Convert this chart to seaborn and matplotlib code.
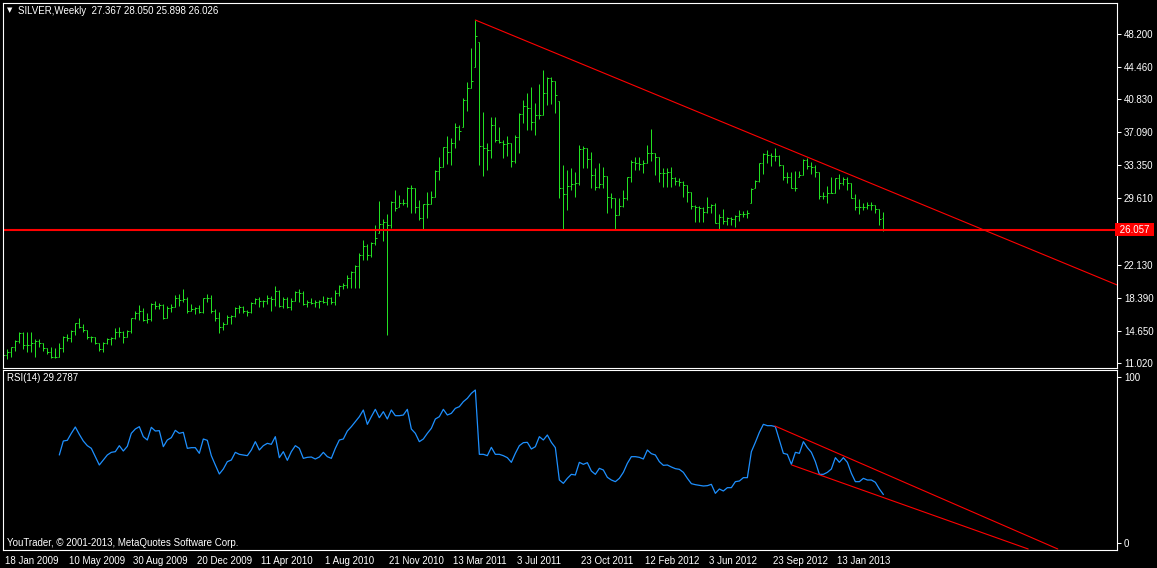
import numpy as np
import pandas as pd
import matplotlib
matplotlib.use("Agg")
import matplotlib.pyplot as plt
import matplotlib.transforms as mtransforms
import seaborn as sns

# weekly SILVER bars, one entry per week on screen
opens = [
    12.07, 11.96, 12.29, 12.86, 13.54, 14.44, 13.08, 13.08, 13.31, 13.54,
    13.31, 12.75, 12.29, 11.73, 11.73, 12.75, 13.99, 13.87, 14.66, 15.57,
    15.11, 14.78, 13.99, 13.99, 13.31, 12.63, 13.31, 13.76, 13.87, 14.55,
    14.55, 13.99, 14.66, 16.13, 16.69, 16.92, 15.90, 16.02, 17.71, 17.48,
    17.60, 16.13, 17.26, 17.37, 18.39, 18.16, 18.27, 16.92, 17.14, 17.26,
    16.81, 18.39, 18.39, 16.92, 16.13, 15.11, 15.45, 16.24, 16.36, 17.26,
    17.37, 16.92, 16.81, 17.82, 18.27, 18.05, 18.05, 18.39, 18.27, 19.18,
    17.48, 18.27, 17.37, 18.05, 19.06, 18.95, 17.71, 17.93, 17.82, 17.93,
    18.05, 17.93, 18.39, 17.93, 18.95, 19.74, 19.85, 20.64, 21.32, 21.99,
    23.24, 24.25, 23.24, 24.59, 25.72, 26.73, 26.96, 26.62, 29.21, 28.65,
    29.10, 29.10, 30.79, 30.79, 28.65, 27.41, 28.99, 28.99, 29.78, 32.71,
    33.16, 35.42, 34.85, 35.87, 37.67, 37.67, 40.72, 42.07, 44.44, 47.26,
    35.53, 35.31, 35.08, 37.90, 36.21, 35.98, 35.76, 35.87, 33.84, 36.55,
    39.14, 40.04, 39.82, 38.24, 39.03, 39.03, 41.51, 43.20, 42.86, 40.61,
    30.79, 30.12, 31.02, 31.24, 31.36, 35.19, 35.31, 34.06, 32.26, 30.91,
    31.24, 32.15, 29.78, 29.67, 27.75, 28.76, 29.67, 32.03, 33.73, 33.61,
    33.50, 33.61, 34.74, 34.74, 34.29, 32.49, 32.49, 32.60, 31.92, 31.58,
    31.47, 31.13, 30.34, 28.76, 28.65, 28.54, 28.09, 28.65, 28.88, 26.85,
    27.52, 27.07, 27.41, 27.30, 27.64, 27.86, 27.86, 29.10, 30.79, 31.58,
    33.61, 34.63, 34.52, 34.40, 34.40, 33.39, 32.03, 32.03, 30.79, 32.03,
    32.26, 33.95, 33.28, 33.16, 32.60, 29.89, 29.89, 30.23, 30.23, 31.92,
    31.36, 31.81, 31.36, 29.67, 28.65, 28.65, 28.65, 28.88, 28.88, 28.42,
    27.37,
]
highs = [
    12.29, 12.63, 12.86, 13.65, 14.55, 14.55, 14.55, 14.55, 13.76, 13.76,
    13.31, 12.75, 12.86, 12.75, 13.31, 14.10, 14.32, 14.78, 15.57, 16.13,
    15.45, 14.78, 14.10, 13.99, 13.31, 13.42, 13.87, 13.99, 15.00, 15.11,
    14.66, 14.78, 16.13, 16.92, 17.60, 17.26, 16.69, 17.82, 18.05, 17.82,
    17.71, 17.48, 17.71, 18.72, 18.84, 19.40, 18.50, 17.71, 17.37, 17.60,
    18.39, 18.84, 18.72, 17.14, 16.81, 15.68, 16.47, 16.47, 17.37, 17.60,
    17.48, 17.03, 17.93, 18.39, 18.50, 18.16, 18.72, 18.61, 19.74, 19.29,
    18.50, 18.50, 18.39, 19.18, 19.40, 19.18, 18.16, 18.39, 18.16, 18.16,
    18.61, 18.50, 18.50, 19.29, 19.85, 20.08, 20.98, 21.43, 22.11, 23.46,
    24.93, 24.48, 24.70, 26.62, 29.33, 27.30, 27.86, 29.33, 30.57, 30.00,
    29.55, 30.91, 31.13, 30.79, 29.44, 28.99, 30.34, 30.46, 32.82, 34.29,
    35.42, 36.66, 36.43, 38.13, 37.90, 40.95, 42.75, 46.59, 49.74, 47.26,
    39.37, 35.87, 38.80, 38.80, 37.67, 36.21, 36.66, 35.87, 36.77, 39.25,
    40.72, 41.51, 42.19, 40.38, 42.52, 44.10, 43.31, 43.31, 42.86, 40.61,
    33.39, 32.82, 33.05, 32.60, 35.64, 35.53, 35.31, 34.85, 33.05, 33.61,
    33.16, 32.15, 30.23, 29.67, 29.67, 30.57, 32.03, 33.95, 34.29, 34.29,
    33.95, 35.64, 37.45, 34.74, 34.29, 33.05, 33.05, 33.16, 32.03, 31.92,
    31.58, 31.13, 30.34, 28.88, 28.76, 28.65, 29.78, 28.99, 29.10, 27.86,
    28.42, 27.52, 27.52, 27.75, 28.31, 28.20, 28.31, 30.79, 31.70, 33.61,
    34.74, 35.08, 34.74, 35.31, 34.52, 33.39, 32.60, 32.60, 32.71, 32.71,
    34.06, 34.18, 33.73, 33.39, 32.60, 30.34, 31.02, 32.03, 31.92, 32.37,
    32.03, 32.03, 31.36, 30.12, 29.55, 29.10, 29.21, 29.21, 28.88, 28.42,
    28.05,
]
lows = [
    11.73, 11.50, 11.73, 12.41, 13.31, 12.63, 12.29, 12.29, 11.73, 12.86,
    12.41, 12.07, 11.62, 11.62, 11.73, 12.29, 13.54, 13.42, 14.21, 15.00,
    14.55, 13.76, 13.42, 13.20, 12.41, 12.29, 13.20, 13.08, 13.76, 13.99,
    13.31, 13.99, 14.44, 16.02, 15.90, 15.79, 15.57, 15.79, 17.14, 17.14,
    16.02, 16.13, 16.81, 17.37, 17.48, 17.93, 16.69, 16.92, 16.58, 16.69,
    16.69, 17.93, 16.69, 15.79, 14.44, 14.78, 15.45, 15.45, 16.24, 16.69,
    16.69, 16.36, 16.69, 17.71, 17.37, 17.37, 17.71, 16.92, 17.48, 17.37,
    17.26, 17.26, 17.03, 18.05, 17.93, 17.60, 17.37, 17.71, 17.37, 17.26,
    17.82, 17.60, 17.71, 17.60, 18.61, 19.40, 19.51, 19.51, 19.51, 19.51,
    22.67, 22.67, 23.01, 24.36, 25.72, 24.82, 14.21, 26.28, 28.20, 28.65,
    28.88, 28.65, 27.97, 27.97, 27.18, 26.17, 27.41, 28.99, 29.78, 31.70,
    33.16, 33.50, 33.39, 35.31, 36.21, 37.67, 39.48, 42.07, 44.44, 33.39,
    32.15, 32.82, 34.18, 35.98, 35.87, 34.18, 34.40, 33.16, 33.61, 34.74,
    38.13, 37.34, 37.34, 36.77, 38.58, 39.03, 40.16, 40.27, 39.25, 29.67,
    26.06, 28.31, 30.57, 29.78, 31.13, 33.05, 33.05, 30.79, 30.57, 30.79,
    30.79, 27.97, 28.54, 26.06, 27.75, 28.65, 29.44, 31.47, 32.82, 32.82,
    32.49, 33.61, 33.84, 32.26, 31.47, 30.91, 30.91, 30.91, 31.13, 31.02,
    29.78, 29.21, 28.42, 26.96, 26.96, 26.96, 27.97, 27.97, 26.85, 26.06,
    26.73, 26.62, 26.62, 26.39, 27.07, 27.52, 27.41, 29.10, 30.79, 31.47,
    32.37, 33.61, 33.28, 33.84, 33.28, 31.70, 31.36, 30.79, 30.46, 32.03,
    32.26, 32.94, 32.37, 32.03, 29.55, 29.55, 29.10, 30.23, 30.23, 30.68,
    31.13, 30.57, 29.67, 28.31, 27.86, 28.31, 28.42, 28.31, 27.97, 26.62,
    25.90,
]
closes = [
    11.96, 12.29, 12.86, 13.54, 14.44, 13.08, 13.08, 13.31, 13.54, 13.31,
    12.75, 12.29, 11.73, 11.73, 12.75, 13.99, 13.87, 14.66, 15.57, 15.11,
    14.78, 13.99, 13.99, 13.31, 12.63, 13.31, 13.76, 13.87, 14.55, 14.55,
    13.99, 14.66, 16.13, 16.69, 16.92, 15.90, 16.02, 17.71, 17.48, 17.60,
    16.13, 17.26, 17.37, 18.39, 18.16, 18.27, 16.92, 17.14, 17.26, 16.81,
    18.39, 18.39, 16.92, 16.13, 15.11, 15.45, 16.24, 16.36, 17.26, 17.37,
    16.92, 16.81, 17.82, 18.27, 18.05, 18.05, 18.39, 18.27, 19.18, 17.48,
    18.27, 17.37, 18.05, 19.06, 18.95, 17.71, 17.93, 17.82, 17.93, 18.05,
    17.93, 18.39, 17.93, 18.95, 19.74, 19.85, 20.64, 21.32, 21.99, 23.24,
    24.25, 23.24, 24.59, 25.15, 26.73, 26.96, 26.62, 29.21, 28.54, 29.10,
    29.10, 30.79, 30.79, 28.65, 27.41, 28.99, 28.99, 29.78, 32.71, 33.16,
    35.42, 34.85, 35.87, 37.67, 37.22, 40.72, 42.07, 42.86, 47.94, 35.53,
    35.31, 35.08, 37.90, 36.21, 35.98, 35.76, 35.87, 33.84, 36.55, 39.14,
    40.04, 39.82, 38.24, 39.03, 39.03, 41.51, 43.20, 42.86, 41.28, 30.79,
    30.12, 31.02, 31.24, 31.36, 35.19, 35.31, 34.06, 32.26, 30.91, 31.24,
    32.15, 29.78, 29.67, 27.75, 28.76, 29.67, 32.03, 33.73, 33.61, 33.50,
    33.61, 34.74, 34.74, 34.29, 32.49, 32.49, 32.60, 31.92, 31.58, 31.47,
    31.13, 30.34, 28.76, 28.65, 28.54, 28.09, 28.65, 28.88, 26.85, 27.52,
    27.07, 27.41, 27.30, 27.64, 27.86, 27.86, 27.97, 30.68, 31.58, 33.61,
    34.63, 34.52, 34.40, 34.40, 33.39, 32.03, 32.03, 30.79, 30.79, 32.26,
    33.95, 33.28, 33.16, 32.60, 29.89, 29.89, 30.23, 30.23, 31.92, 31.36,
    31.81, 31.36, 29.67, 28.65, 28.65, 28.65, 28.88, 28.88, 28.42, 27.30,
    26.026,
]

# RSI(14), no value for the first 14 weeks
rsi_values = [np.nan] * 14 + [
    53.0, 61.4, 61.8, 66.0, 69.8, 65.4, 61.4, 58.6, 57.0, 52.0,
    47.0, 50.0, 53.0, 54.6, 55.0, 58.6, 55.4, 58.2, 66.0, 68.6,
    70.0, 64.0, 62.0, 69.6, 67.4, 67.6, 58.0, 62.0, 63.4, 67.8,
    66.0, 66.6, 57.0, 57.4, 57.4, 54.0, 62.6, 61.8, 52.6, 47.0,
    41.6, 44.6, 49.0, 50.0, 54.6, 53.4, 53.0, 52.6, 56.0, 61.0,
    56.0, 58.6, 60.0, 59.4, 64.0, 51.4, 55.0, 49.8, 55.0, 58.6,
    57.0, 51.0, 51.6, 51.8, 50.6, 51.8, 54.6, 52.0, 51.0, 57.0,
    62.0, 62.6, 67.4, 70.0, 73.0, 76.0, 80.0, 71.4, 76.0, 80.4,
    75.4, 79.0, 74.6, 80.0, 76.6, 76.6, 77.0, 80.4, 68.6, 66.0,
    61.0, 62.6, 66.0, 69.0, 74.6, 76.0, 80.4, 77.0, 78.0, 81.0,
    82.0, 85.0, 87.0, 90.0, 92.0, 53.4, 53.4, 52.6, 57.6, 53.4,
    53.4, 52.6, 51.4, 48.6, 54.0, 58.6, 60.4, 60.6, 56.6, 58.0,
    64.0, 62.0, 65.0, 60.6, 57.4, 38.0, 36.0, 39.0, 41.4, 41.0,
    48.6, 47.4, 48.4, 43.4, 41.4, 45.0,
    44.0, 39.6, 38.0, 37.0, 39.0, 42.6, 48.0, 52.0, 52.0, 51.6,
    50.6, 56.0, 53.8, 53.0, 49.0, 46.8, 47.0, 45.8, 44.8, 44.4,
    42.6, 39.0, 35.8, 35.2, 34.8, 34.4, 34.6, 35.4, 30.0, 32.6,
    31.4, 33.4, 33.4, 37.0, 37.4, 39.4, 39.4, 55.0, 60.6, 66.6,
    71.4, 70.6, 70.6, 70.0, 62.0, 54.0, 53.4, 47.4, 54.6, 54.0,
    61.0, 57.4, 54.6, 49.0, 41.4, 41.4, 42.6, 44.6, 51.4, 48.6,
    51.4, 48.6, 42.0, 37.0, 37.0, 39.0, 38.0, 38.0, 36.6, 32.6,
    29.2787,
]

price_ticks = [48.200, 44.460, 40.830, 37.090, 33.350, 29.610, 22.130, 18.390, 14.650, 11.020]
support_level = 26.057

# drawn lines: (bar, value) anchor pairs
trend_x = [118, 278.4]
trend_y = [49.74, 19.84]
rsi_upper_x = [192.9, 263.6]
rsi_upper_y = [70.4, -3.4]
rsi_lower_x = [197.1, 256.2]
rsi_lower_y = [47.0, -3.4]

date_labels = ['18 Jan 2009', '10 May 2009', '30 Aug 2009', '20 Dec 2009', '11 Apr 2010',
               '1 Aug 2010', '21 Nov 2010', '13 Mar 2011', '3 Jul 2011', '23 Oct 2011',
               '12 Feb 2012', '3 Jun 2012', '23 Sep 2012', '13 Jan 2013']

n = len(closes)
assert len(opens) == n and len(highs) == n and len(lows) == n and len(rsi_values) == n

sns.set_style('dark', {'axes.facecolor': 'black', 'figure.facecolor': 'black'})
plt.rcParams['font.family'] = ['Liberation Sans', 'DejaVu Sans']

W, H = 1157, 568
fig = plt.figure(figsize=(W / 100, H / 100), dpi=100, facecolor='black')


def px_rect(x0, y0, x1, y1):
    return [x0 / W, 1 - y1 / H, (x1 - x0) / W, (y1 - y0) / H]


ax1 = fig.add_axes(px_rect(3, 3, 1117, 367.5))
ax2 = fig.add_axes(px_rect(3, 369.5, 1117, 549.5))

green = '#22e022'
red = '#ff0000'
x = np.arange(n)

# price bars: 1px stem, open tick left, close tick right
bar_kw = dict(colors=green, linewidths=0.72, snap=True)
ax1.vlines(x, lows, highs, **bar_kw)
ax1.hlines(opens, x - 0.3, x, **bar_kw)
ax1.hlines(closes, x, x + 0.3, **bar_kw)

ax1.axhline(support_level, color=red, lw=1.5)
ax1.plot(trend_x, trend_y, color=red, lw=0.8)

ax1.set_xlim(-0.075, 278.4)
ax1.set_ylim(10.52, 51.66)
ax1.set_xticks([])
ax1.yaxis.tick_right()
ax1.set_yticks(price_ticks, labels=[f'{v:.3f}' for v in price_ticks])
ax1.tick_params(axis='y', colors='white', length=3, width=0.75, labelsize=7, pad=2)
ax1.text(1.0, support_level, ' 26.057 ', transform=ax1.get_yaxis_transform(),
         ha='left', va='center', color='white', fontsize=7,
         bbox=dict(facecolor=red, edgecolor='none', pad=1.2))

# RSI panel
rsi_df = pd.DataFrame({'bar': x, 'rsi': rsi_values})
sns.lineplot(data=rsi_df, x='bar', y='rsi', ax=ax2, color='#1e90ff', lw=0.9)
ax2.plot(rsi_upper_x, rsi_upper_y, color=red, lw=0.8)
ax2.plot(rsi_lower_x, rsi_lower_y, color=red, lw=0.8)

ax2.set_xlim(-0.075, 278.4)
ax2.set_ylim(-3.7, 104.3)
ax2.set_xlabel('')
ax2.set_ylabel('')
ax2.yaxis.tick_right()
ax2.set_yticks([0, 100], labels=['0', '100'])
ax2.tick_params(axis='y', colors='white', length=3, width=0.75, labelsize=7, pad=2)
ax2.set_xticks(np.arange(len(date_labels)) * 16, labels=date_labels)
ax2.tick_params(axis='x', colors='white', length=3, width=0.75, labelsize=7, pad=1.5)
shift = mtransforms.ScaledTranslation(2 / 100, 0, fig.dpi_scale_trans)
for lbl in ax2.get_xticklabels():
    lbl.set_horizontalalignment('left')
    lbl.set_transform(lbl.get_transform() + shift)

for ax in (ax1, ax2):
    ax.set_facecolor('black')
    ax.grid(False)
    for s in ax.spines.values():
        s.set_color('white')
        s.set_linewidth(0.8)
        s.set_visible(True)

fig.text(7 / W, 1 - 10.5 / H, '\u25bc', color='white', fontsize=5, va='center',
         family=['DejaVu Sans'])
fig.text(18 / W, 1 - 10.5 / H, 'SILVER,Weekly  27.367 28.050 25.898 26.026',
         color='white', fontsize=7, va='center')
fig.text(7 / W, 1 - 378 / H, 'RSI(14) 29.2787', color='white', fontsize=7, va='center')
fig.text(7 / W, 1 - 543 / H, 'YouTrader, \u00a9 2001-2013, MetaQuotes Software Corp.',
         color='white', fontsize=7, va='center')

fig.savefig('out.png', dpi=100, facecolor='black')
